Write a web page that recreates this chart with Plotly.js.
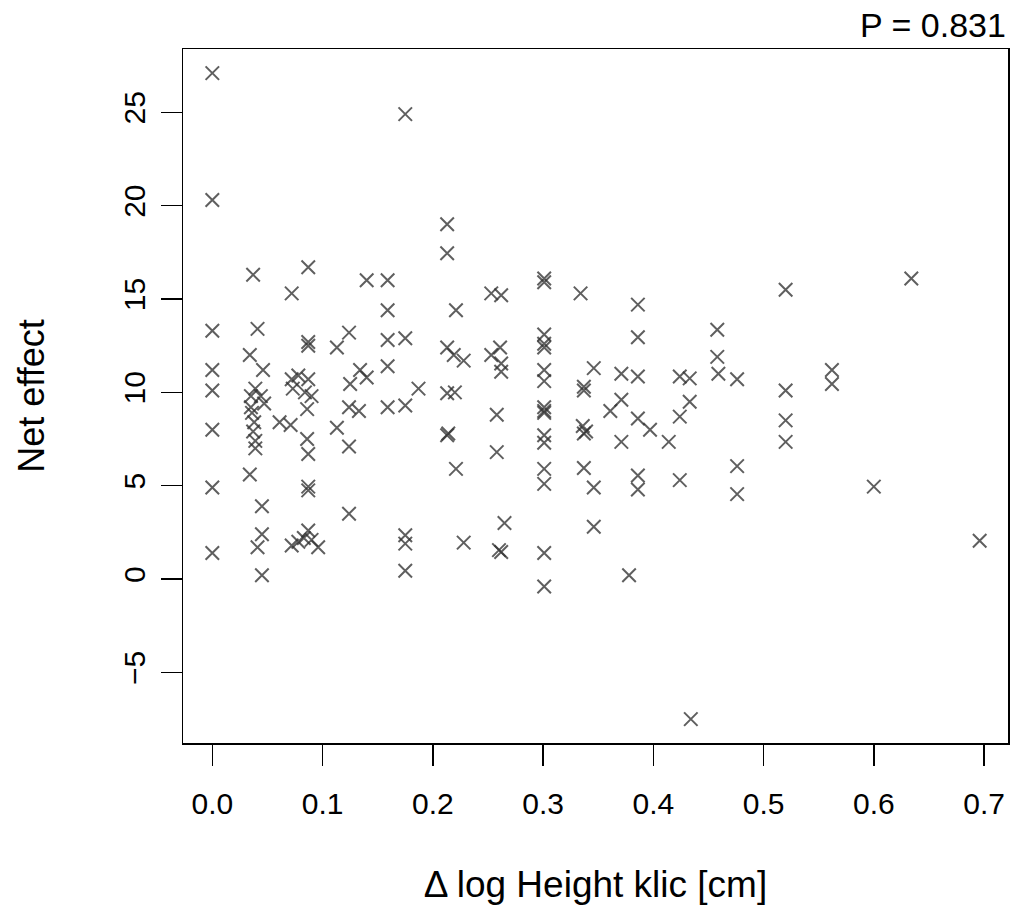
<!DOCTYPE html>
<html>
<head>
<meta charset="utf-8">
<script src="https://cdn.plot.ly/plotly-3.0.1.min.js"></script>
<style>
  html, body { margin: 0; padding: 0; background: #fff; }
  #chart { width: 1011px; height: 909px; }
</style>
</head>
<body>
<div id="chart"></div>
<script>
// Change in log height (x) against net effect (y), one entry per plant
const heightChange = [
  0, 0, 0, 0, 0, 0, 0, 0,
  0.037, 0.041, 0.034, 0.046, 0.039, 0.035, 0.044, 0.047, 0.035, 0.036, 0.038, 0.037, 0.039, 0.039, 0.034, 0.045, 0.045, 0.041, 0.045,
  0.072, 0.087, 0.087, 0.087, 0.072, 0.078, 0.087, 0.073, 0.084, 0.090, 0.086, 0.061, 0.071, 0.086, 0.087, 0.087, 0.087, 0.087, 0.072, 0.078, 0.083, 0.090, 0.096,
  0.113, 0.124, 0.125, 0.134, 0.140, 0.124, 0.133, 0.113, 0.124, 0.124, 0.140, 0.159, 0.159, 0.159, 0.159, 0.159, 0.175, 0.175, 0.187, 0.175, 0.175, 0.175, 0.175,
  0.213, 0.213, 0.213, 0.213, 0.213, 0.214, 0.220, 0.221, 0.219, 0.228, 0.221, 0.228,
  0.253, 0.262, 0.261, 0.253, 0.262, 0.262, 0.258, 0.258, 0.265, 0.260, 0.262,
  0.301, 0.301, 0.301, 0.301, 0.301, 0.301, 0.301, 0.301, 0.301, 0.301, 0.301, 0.301, 0.301, 0.301, 0.301, 0.301,
  0.334, 0.337, 0.337, 0.346, 0.336, 0.339, 0.337, 0.337, 0.346, 0.346,
  0.371, 0.386, 0.386, 0.386, 0.386, 0.386, 0.386, 0.371, 0.361, 0.397, 0.371, 0.378,
  0.414, 0.424, 0.424, 0.424, 0.433, 0.433, 0.434, 0.458, 0.458, 0.459, 0.476, 0.476, 0.476,
  0.520, 0.520, 0.520, 0.520, 0.562, 0.562, 0.600, 0.634, 0.696
];
const netEffect = [
  27.1, 20.3, 13.3, 11.2, 10.1, 8.0, 4.9, 1.4,
  16.3, 13.4, 12.0, 11.2, 10.2, 9.8, 9.8, 9.4, 9.2, 8.9, 8.4, 7.9, 7.4, 7.0, 5.6, 3.9, 2.4, 1.7, 0.2,
  15.3, 16.7, 12.7, 12.5, 10.7, 10.9, 10.7, 10.2, 10.0, 9.8, 9.1, 8.4, 8.25, 7.5, 6.7, 4.95, 4.75, 2.6, 1.8, 2.0, 2.2, 2.1, 1.7,
  12.4, 13.2, 10.45, 11.2, 10.8, 9.2, 9.0, 8.1, 7.1, 3.5, 16.0, 16.0, 14.4, 12.8, 11.4, 9.2, 12.9, 9.3, 10.2, 24.9, 2.35, 1.9, 0.45,
  19.0, 17.45, 12.4, 9.95, 7.7, 7.8, 10.0, 14.4, 12.0, 11.7, 5.9, 1.95,
  15.3, 15.2, 12.4, 12.0, 11.55, 11.1, 8.8, 6.8, 3.0, 1.55, 1.45,
  16.1, 15.9, 13.1, 12.6, 12.4, 11.2, 10.6, 9.2, 9.0, 8.9, 7.7, 7.3, 5.9, 5.1, 1.4, -0.4,
  15.3, 10.3, 10.1, 11.3, 8.2, 7.9, 7.8, 5.95, 4.9, 2.8,
  11.0, 14.7, 12.95, 10.85, 8.6, 5.55, 4.8, 9.6, 9.0, 8.0, 7.35, 0.2,
  7.35, 10.85, 8.7, 5.3, 10.75, 9.5, -7.5, 13.35, 11.9, 11.0, 10.7, 6.05, 4.55,
  15.5, 10.1, 8.5, 7.35, 11.2, 10.45, 4.95, 16.1, 2.05
];

const xTicks = [0, 0.1, 0.2, 0.3, 0.4, 0.5, 0.6, 0.7];
const xTickLabels = ["0.0", "0.1", "0.2", "0.3", "0.4", "0.5", "0.6", "0.7"];
const yTicks = [-5, 0, 5, 10, 15, 20, 25];
const yTickLabels = ["\u22125", "0", "5", "10", "15", "20", "25"];

const pLabel = "P = 0.831";

const FONT = "Liberation Sans, Arial, sans-serif";

const trace = {
  type: "scatter",
  mode: "markers",
  x: heightChange,
  y: netEffect,
  marker: {
    symbol: "x-thin-open",
    size: 13.5,
    color: "rgba(50,50,50,0.78)",
    line: { width: 2, color: "rgba(50,50,50,0.78)" }
  },
  hoverinfo: "x+y"
};

const axisBase = {
  showgrid: false,
  zeroline: false,
  showline: true,
  mirror: true,
  linecolor: "#000",
  linewidth: 1.5,
  ticks: "outside",
  ticklen: 21,
  tickwidth: 1.5,
  tickcolor: "#000",
  tickfont: { family: FONT, size: 30, color: "#000" }
};

const layout = {
  width: 1011,
  height: 909,
  margin: { l: 183, r: 3, t: 49, b: 166 },
  paper_bgcolor: "#fff",
  plot_bgcolor: "#fff",
  showlegend: false,
  xaxis: Object.assign({}, axisBase, {
    range: [-0.0266, 0.7217],
    tickmode: "array",
    tickvals: xTicks,
    ticktext: xTickLabels,
    ticklabelstandoff: 12,
    title: {
      text: "\u0394 log Height klic [cm]",
      font: { family: FONT, size: 37, color: "#000" },
      standoff: 52
    }
  }),
  yaxis: Object.assign({}, axisBase, {
    range: [-8.78, 28.39],
    tickmode: "array",
    tickvals: yTicks,
    ticktext: yTickLabels,
    tickangle: -90,
    ticklabelstandoff: 4,
    title: {
      text: "Net effect",
      font: { family: FONT, size: 36, color: "#000" },
      standoff: 62
    }
  }),
  annotations: [{
    text: pLabel,
    xref: "paper", yref: "paper",
    x: 1.0, y: 1.0346,
    xanchor: "right", yanchor: "middle",
    showarrow: false,
    font: { family: FONT, size: 34, color: "#000" }
  }]
};

Plotly.newPlot("chart", [trace], layout, { displayModeBar: false, staticPlot: true });
</script>
</body>
</html>
